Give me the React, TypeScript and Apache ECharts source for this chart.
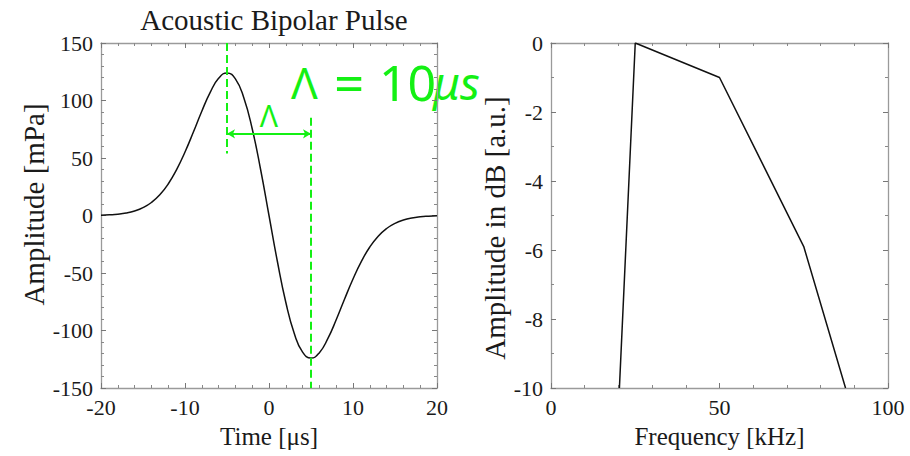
import React, { useEffect, useRef } from "react";
import * as echarts from "echarts";

// Left panel: acoustic bipolar pulse (time in µs, amplitude in mPa)
const pulseTime = [
  -20, -19, -18, -17, -16, -15, -14, -13, -12, -11, -10, -9, -8, -7, -6, -5, -4, -3, -2, -1,
  0, 1, 2, 3, 4, 5, 6, 7, 8, 9, 10, 11, 12, 13, 14, 15, 16, 17, 18, 19, 20,
];
const pulseAmp = [
  0.3, 0.6, 1.1, 2.1, 3.9, 6.8, 11.3, 18, 27.4, 39.9, 55.2, 72.6, 90.7, 107.1, 119.3, 124, 118.8, 102.4, 75.4, 40, 0,
  -40, -75.4, -102.4, -118.8, -124, -119.3, -107.1, -90.7, -72.6, -55.2, -39.9, -27.4, -18, -11.3, -6.8, -3.9, -2.1, -1.1,
  -0.6, -0.3,
];

// Right panel: spectrum (frequency in kHz, amplitude in dB)
const specFreq = [20.3, 25, 50, 75, 87.4];
const specDb = [-10, 0, -1, -5.9, -10];

// Annotation values (left panel)
const peakTime = -5;
const troughTime = 5;
const peakLineY = [150, 54];
const troughLineY = [85, -150];
const arrowY = 71;

const leftXTicks = { min: -20, max: 20, interval: 10 };
const leftYTicks = { min: -150, max: 150, interval: 50 };
const rightXTicks = { min: 0, max: 100, interval: 50 };
const rightYTicks = { min: -10, max: 0, interval: 2 };

const GREEN = "#14f014";
const SERIF = "'Liberation Serif', 'Times New Roman', serif";
const SANS = "'Noto Sans', sans-serif";

function axisBase(showLabel: boolean, minorSplit: number) {
  return {
    type: "value" as const,
    axisLine: { show: true, onZero: false, lineStyle: { color: "#9a9a9a", width: 1.3 } },
    axisTick: { show: true, inside: true, length: 5, lineStyle: { color: "#777", width: 1 } },
    minorTick: { show: true, splitNumber: minorSplit, length: 3, lineStyle: { color: "#888", width: 1 } },
    splitLine: { show: false },
    minorSplitLine: { show: false },
    axisLabel: {
      show: showLabel,
      fontFamily: SERIF,
      fontSize: 22,
      color: "#1a1a1a",
      margin: 8,
    },
  };
}

export default function App() {
  const ref = useRef<HTMLDivElement>(null);

  useEffect(() => {
    if (!ref.current) return;
    const chart = echarts.init(ref.current, undefined, { renderer: "svg" });

    const pulseData = pulseTime.map((t, i) => [t, pulseAmp[i]]);
    const specData = specFreq.map((f, i) => [f, specDb[i]]);

    const xNameStyle = { fontFamily: SERIF, fontSize: 25, color: "#1a1a1a" };

    chart.setOption({
      animation: false,
      backgroundColor: "#ffffff",
      title: {
        text: "Acoustic Bipolar Pulse",
        left: 269,
        top: 0,
        textAlign: "center",
        textStyle: { fontFamily: SERIF, fontSize: 29, fontWeight: "normal", color: "#1a1a1a" },
      },
      grid: [
        { left: 101, top: 43, width: 336, height: 345 },
        { left: 551, top: 43, width: 337, height: 345 },
      ],
      xAxis: [
        {
          ...axisBase(true, 5),
          gridIndex: 0,
          position: "bottom",
          ...leftXTicks,
          name: "Time [μs]",
          nameLocation: "middle",
          nameGap: 36,
          nameTextStyle: xNameStyle,
        },
        { ...axisBase(false, 5), gridIndex: 0, position: "top", ...leftXTicks },
        {
          ...axisBase(true, 5),
          gridIndex: 1,
          position: "bottom",
          ...rightXTicks,
          name: "Frequency [kHz]",
          nameLocation: "middle",
          nameGap: 36,
          nameTextStyle: xNameStyle,
        },
        { ...axisBase(false, 5), gridIndex: 1, position: "top", ...rightXTicks },
      ],
      yAxis: [
        {
          ...axisBase(true, 5),
          gridIndex: 0,
          position: "left",
          ...leftYTicks,
          name: "Amplitude [mPa]",
          nameLocation: "middle",
          nameGap: 53,
          nameTextStyle: { fontFamily: SERIF, fontSize: 29, color: "#1a1a1a", padding: [0, 0, 0, 22] },
        },
        { ...axisBase(false, 5), gridIndex: 0, position: "right", ...leftYTicks },
        {
          ...axisBase(true, 2),
          gridIndex: 1,
          position: "left",
          ...rightYTicks,
          name: "Amplitude in dB [a.u.]",
          nameLocation: "middle",
          nameGap: 39,
          nameTextStyle: { fontFamily: SERIF, fontSize: 29, color: "#1a1a1a", padding: [0, 25, 0, 0] },
        },
        { ...axisBase(false, 2), gridIndex: 1, position: "right", ...rightYTicks },
      ],
      series: [
        {
          type: "line",
          name: "pulse",
          xAxisIndex: 0,
          yAxisIndex: 0,
          data: pulseData,
          smooth: true,
          showSymbol: false,
          lineStyle: { color: "#111", width: 1.5 },
          z: 3,
        },
        {
          type: "line",
          name: "peak marker",
          xAxisIndex: 0,
          yAxisIndex: 0,
          data: peakLineY.map((y) => [peakTime, y]),
          showSymbol: false,
          lineStyle: { color: GREEN, width: 2, type: [8, 4] },
          z: 4,
        },
        {
          type: "line",
          name: "trough marker",
          xAxisIndex: 0,
          yAxisIndex: 0,
          data: troughLineY.map((y) => [troughTime, y]),
          showSymbol: false,
          lineStyle: { color: GREEN, width: 2, type: [8, 4] },
          z: 4,
          markLine: {
            silent: true,
            symbol: ["arrow", "arrow"],
            symbolSize: [7, 8],
            lineStyle: { color: GREEN, width: 2, type: "solid" },
            label: { show: false },
            data: [[{ coord: [peakTime, arrowY] }, { coord: [troughTime, arrowY] }]],
          },
        },
        {
          type: "line",
          name: "spectrum",
          xAxisIndex: 2,
          yAxisIndex: 2,
          data: specData,
          showSymbol: false,
          lineStyle: { color: "#111", width: 1.5 },
        },
      ],
      graphic: [
        {
          type: "group",
          id: "bigLabel",
          z: 100,
          children: [
            { type: "text", x: 291, y: 82, style: { text: "Λ", fontFamily: SANS, fontSize: 44, fill: GREEN, verticalAlign: "middle" } },
            { type: "text", x: 334, y: 82, style: { text: "=", fontFamily: SANS, fontSize: 53, fill: GREEN, verticalAlign: "middle" } },
            { type: "text", x: 379, y: 82, style: { text: "10", fontFamily: SANS, fontSize: 50, fill: GREEN, verticalAlign: "middle" } },
            { type: "text", x: 433, y: 82, style: { text: "μs", fontFamily: SANS, fontSize: 46, fontStyle: "italic", fill: GREEN, verticalAlign: "middle" } },
          ],
        },
      ],
    });

    // Place the small "Λ" above the middle of the arrow, via the chart's own scales
    const mid = chart.convertToPixel({ gridIndex: 0 }, [(peakTime + troughTime) / 2, arrowY]) as number[];
    if (mid) {
      chart.setOption({
        graphic: [
          {
            type: "text",
            id: "smallLambda",
            z: 100,
            x: mid[0],
            y: mid[1] - 18,
            style: {
              text: "Λ",
              fontFamily: SANS,
              fontSize: 30,
              fill: GREEN,
              align: "center",
              verticalAlign: "middle",
            },
          },
        ],
      });
    }

    return () => chart.dispose();
  }, []);

  return (
    <div
      ref={ref}
      style={{ position: "fixed", left: 0, top: 0, width: 910, height: 456, background: "#fff" }}
    />
  );
}
